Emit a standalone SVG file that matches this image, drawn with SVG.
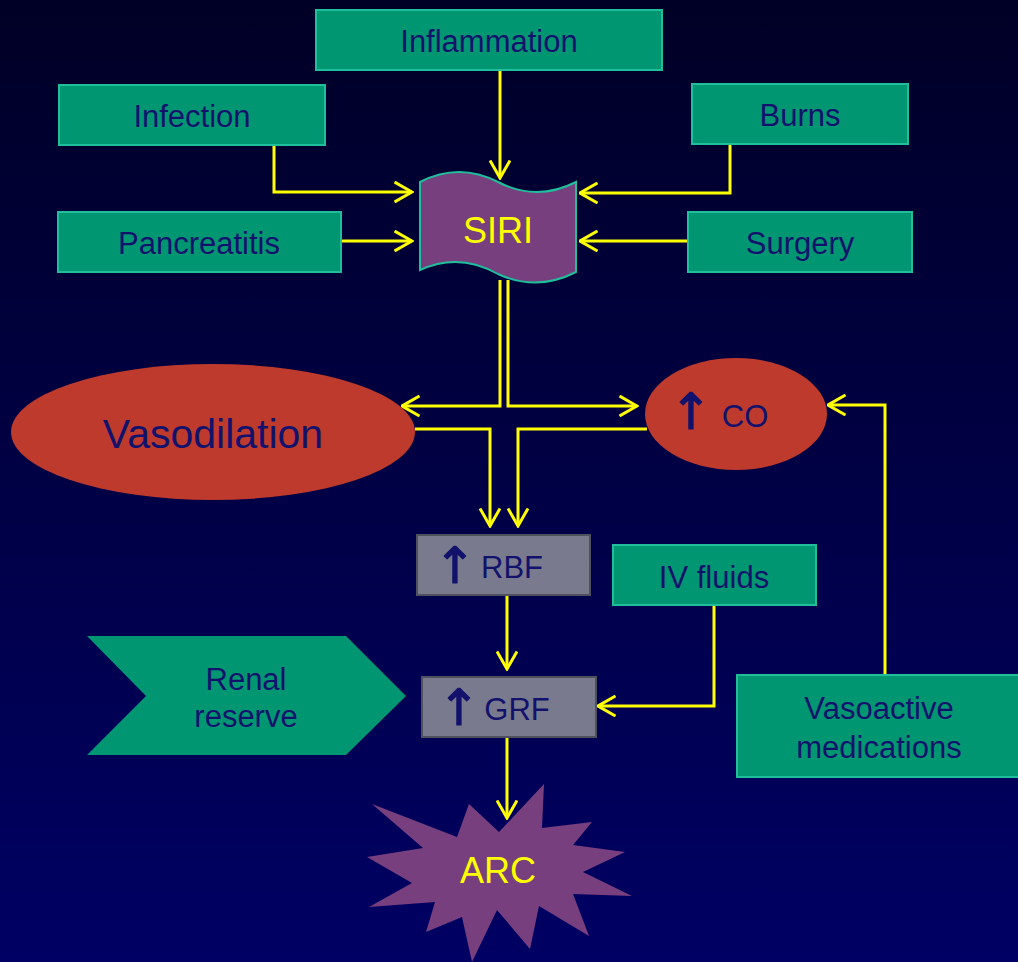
<svg xmlns="http://www.w3.org/2000/svg" width="1018" height="962" viewBox="0 0 1018 962">
<defs>
<linearGradient id="bg" x1="0" y1="0" x2="0" y2="1">
<stop offset="0" stop-color="#000026"/>
<stop offset="1" stop-color="#000064"/>
</linearGradient>
<marker id="ah" markerUnits="userSpaceOnUse" viewBox="0 0 20 22" refX="18.5" refY="11" markerWidth="20" markerHeight="22" orient="auto">
<path d="M1,1 L18.5,11 L1,21" fill="none" stroke="#ffff00" stroke-width="3"/>
</marker>
<style>
.box{fill:#009672;stroke:#1fbf9c;stroke-width:2}
.gray{fill:#7a7a8e;stroke:#50505f;stroke-width:2}
.red{fill:#bd3a2c}
.t{font-family:"Liberation Sans",Arial,sans-serif;font-size:31px;fill:#12126c;text-anchor:middle}
.up{font-family:"DejaVu Sans",sans-serif;font-size:50px;fill:#12126c;stroke:#12126c;stroke-width:1.2;stroke-linejoin:round;text-anchor:middle}
.y{font-family:"Liberation Sans",Arial,sans-serif;font-size:36px;fill:#ffff00;text-anchor:middle}
.c{fill:none;stroke:#ffff00;stroke-width:3;marker-end:url(#ah)}
</style>
</defs>
<rect width="1018" height="962" fill="url(#bg)"/>

<g id="connectors">
<path class="c" d="M500,70 L500,178"/>
<path class="c" d="M274,145 L274,192 L412,192"/>
<path class="c" d="M730,144 L730,193 L580,193"/>
<path class="c" d="M341,241 L412,241"/>
<path class="c" d="M688,241 L580,241"/>
<path class="c" d="M500,280 L500,406 L402,406"/>
<path class="c" d="M508,280 L508,406 L637,406"/>
<path class="c" d="M415,429 L490,429 L490,526"/>
<path class="c" d="M647,429 L518,429 L518,526"/>
<path class="c" d="M507,595 L507,669"/>
<path class="c" d="M714,605 L714,706 L598,706"/>
<path class="c" d="M885,675 L885,405 L828,405"/>
<path class="c" d="M507,737 L507,818"/>
</g>

<g id="inflammation"><rect class="box" x="316" y="10" width="346" height="60"/><text class="t" x="489" y="52">Inflammation</text></g>
<g id="infection"><rect class="box" x="59" y="85" width="266" height="60"/><text class="t" x="192" y="127">Infection</text></g>
<g id="burns"><rect class="box" x="692" y="84" width="216" height="60"/><text class="t" x="800" y="126">Burns</text></g>
<g id="pancreatitis"><rect class="box" x="58" y="212" width="283" height="60"/><text class="t" x="199" y="254">Pancreatitis</text></g>
<g id="surgery"><rect class="box" x="688" y="212" width="224" height="60"/><text class="t" x="800" y="254">Surgery</text></g>

<g id="siri">
<path d="M420,182 Q459,162 498,182 Q537,202 576,182 L576,272 Q537,292 498,274 Q459,252 420,270 Z" fill="#783f7f" stroke="#1fbf9c" stroke-width="2"/>
<text class="y" x="498" y="243">SIRI</text>
</g>

<g id="vasodilation"><ellipse class="red" cx="213" cy="432" rx="202" ry="68"/><text class="t" x="213" y="448" style="font-size:41px">Vasodilation</text></g>
<g id="co"><ellipse class="red" cx="736" cy="414" rx="91" ry="56"/><text class="up" x="691" y="429">↑</text><text class="t" x="745" y="427">CO</text></g>

<g id="rbf"><rect class="gray" x="417" y="535" width="173" height="60"/><text class="up" x="455" y="583">↑</text><text class="t" x="512" y="578">RBF</text></g>
<g id="ivfluids"><rect class="box" x="613" y="545" width="203" height="60"/><text class="t" x="714" y="588">IV fluids</text></g>
<g id="grf"><rect class="gray" x="422" y="677" width="174" height="60"/><text class="up" x="459" y="725">↑</text><text class="t" x="517" y="720">GRF</text></g>

<g id="renal-reserve">
<polygon points="87,636 346,636 406,696 346,755 87,755 146,696" fill="#009672"/>
<text class="t" x="246" y="690">Renal</text>
<text class="t" x="246" y="727">reserve</text>
</g>

<g id="vasoactive"><rect class="box" x="737" y="675" width="290" height="102"/><text class="t" x="879" y="719">Vasoactive</text><text class="t" x="879" y="758">medications</text></g>

<g id="arc">
<polygon points="372,804 457,837 469,804 499,832 544,784 542,828 592,822 573,845 625,852 583,872 632,896 573,894 589,936 539,906 530,949 497,910 472,962 462,917 426,932 435,902 369,907 412,883 367,857 423,848" fill="#783f7f"/>
<text class="y" x="498" y="883">ARC</text>
</g>
</svg>
